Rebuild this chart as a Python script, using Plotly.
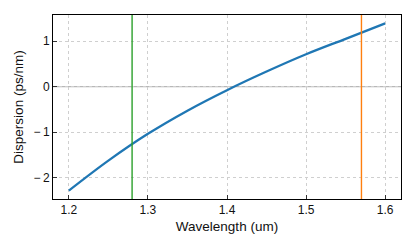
import plotly.graph_objects as go

wavelength = [1.20, 1.25, 1.30, 1.35, 1.40, 1.45, 1.50, 1.55, 1.60]
dispersion = [-2.29, -1.63, -1.04, -0.53, -0.08, 0.33, 0.71, 1.05, 1.39]
marker_wavelengths = [1.28, 1.57]
marker_colors = ["#2ca02c", "#ff7f0e"]
x_ticks = [1.2, 1.3, 1.4, 1.5, 1.6]
y_ticks = [-2, -1, 0, 1]
y_ticktext = ["\u2212\u20092", "\u2212\u20091", "0", "1"]

fig = go.Figure()
fig.add_trace(go.Scatter(x=wavelength, y=dispersion, mode="lines",
                         line=dict(color="#1f77b4", width=2.3, shape="spline"),
                         showlegend=False, hoverinfo="skip"))
for xv, c in zip(marker_wavelengths, marker_colors):
    fig.add_vline(x=xv, line=dict(color=c, width=1.4))
fig.add_hline(y=0, line=dict(color="#b8b8b8", width=1.3), layer="below")

tick_font = dict(family="Liberation Sans, Arial, sans-serif", size=12, color="#111")
title_font = dict(family="Liberation Sans, Arial, sans-serif", size=13.5, color="#111")
axis_common = dict(showline=True, linecolor="black", linewidth=1, mirror=True,
                   ticks="inside", ticklen=4, tickwidth=1, tickcolor="#333",
                   showgrid=True, gridcolor="#cfcfcf", gridwidth=0.9, griddash="3px,3px",
                   zeroline=False, tickfont=tick_font)
fig.update_layout(
    width=415, height=249,
    margin=dict(l=53, r=14, t=15, b=50),
    paper_bgcolor="white", plot_bgcolor="white",
    font=tick_font,
    xaxis=dict(range=[1.18, 1.62], tickvals=x_ticks, ticktext=[f"{v:.1f}" for v in x_ticks],
               title=dict(text="Wavelength (um)", font=title_font, standoff=5), **axis_common),
    yaxis=dict(range=[-2.474, 1.574], tickvals=y_ticks, ticktext=y_ticktext,
               title=dict(text="Dispersion (ps/nm)", font=title_font, standoff=6), **axis_common),
)
fig.write_html("out.html", config={"displayModeBar": False},
               post_script="document.body.style.margin='0px';")
